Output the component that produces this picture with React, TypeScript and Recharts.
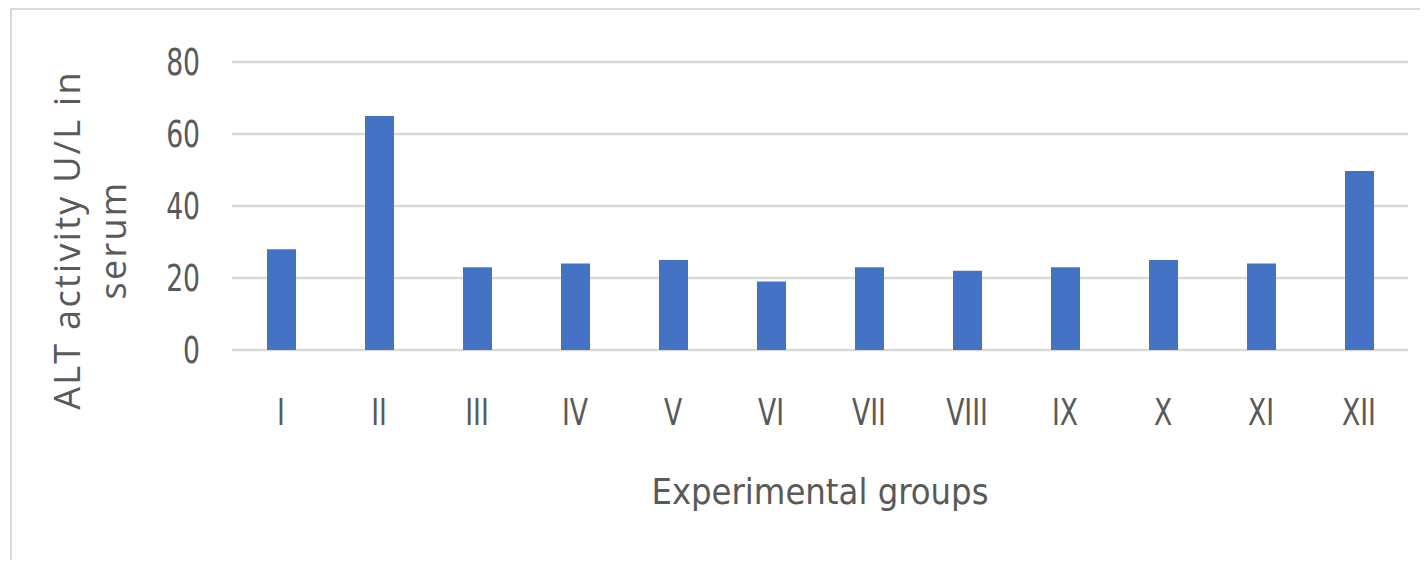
import React from 'react';
import { BarChart, Bar, XAxis, YAxis, CartesianGrid } from 'recharts';

// ALT activity per experimental group (U/L in serum)
const groups = ['I', 'II', 'III', 'IV', 'V', 'VI', 'VII', 'VIII', 'IX', 'X', 'XI', 'XII'];
const altValues = [28, 65, 23, 24, 25, 19, 23, 22, 23, 25, 24, 49.7];
const yTicks = [0, 20, 40, 60, 80];

const narrowFont = "'Liberation Sans Narrow', 'DejaVu Sans Condensed', sans-serif";
const labelFont = "'Open Sans', 'DejaVu Sans', sans-serif";
const textColor = '#595959';

const chartData = groups.map((group, i) => ({ group, alt: altValues[i] }));

// narrow-looking tick text (squeezed horizontally around its anchor)
const NarrowTick = ({ x, y, payload, anchor, dy }: any) => (
  <text
    transform={`translate(${x}, ${y}) scale(0.8, 1)`}
    textAnchor={anchor}
    dy={dy}
    fontFamily={narrowFont}
    fontSize={37}
    fill={textColor}
  >
    {payload.value}
  </text>
);

const YTitle = () => (
  <g fontFamily={labelFont} fontSize={36} letterSpacing={2.3} fill={textColor} textAnchor="middle">
    <text transform="translate(80, 240) rotate(-90)">ALT activity U/L in</text>
    <text transform="translate(126, 240) rotate(-90)">serum</text>
  </g>
);

const XTitle = ({ viewBox }: any) => (
  <text
    x={viewBox.x + viewBox.width / 2}
    y={504}
    textAnchor="middle"
    fontFamily={narrowFont}
    fontSize={36}
    fill={textColor}
  >
    Experimental groups
  </text>
);

export default function App() {
  return (
    <div style={{ position: 'relative', width: 1428, height: 568, margin: -8, background: '#fff', overflow: 'hidden' }}>
      <div
        style={{
          position: 'absolute',
          left: 10,
          top: 8,
          width: 1440,
          height: 600,
          border: '2px solid #d9d9d9',
          boxSizing: 'border-box',
        }}
      />
      <BarChart
        width={1428}
        height={568}
        data={chartData}
        margin={{ top: 62, right: 20, left: 0, bottom: 0 }}
        style={{ position: 'absolute', left: 0, top: 0 }}
      >
        <CartesianGrid vertical={false} stroke="#d9d9d9" strokeWidth={2.5} />
        <XAxis
          dataKey="group"
          height={218}
          axisLine={false}
          tickLine={false}
          tickSize={0}
          tickMargin={48}
          tick={<NarrowTick anchor="middle" dy={27} />}
          interval={0}
          label={<XTitle />}
        />
        <YAxis
          width={232}
          domain={[0, 80]}
          ticks={yTicks}
          axisLine={false}
          tickLine={false}
          tickSize={0}
          tickMargin={32}
          tick={<NarrowTick anchor="end" dy={13} />}
          label={<YTitle />}
        />
        <Bar dataKey="alt" fill="#4472C4" barSize={29} isAnimationActive={false} />
      </BarChart>
    </div>
  );
}
